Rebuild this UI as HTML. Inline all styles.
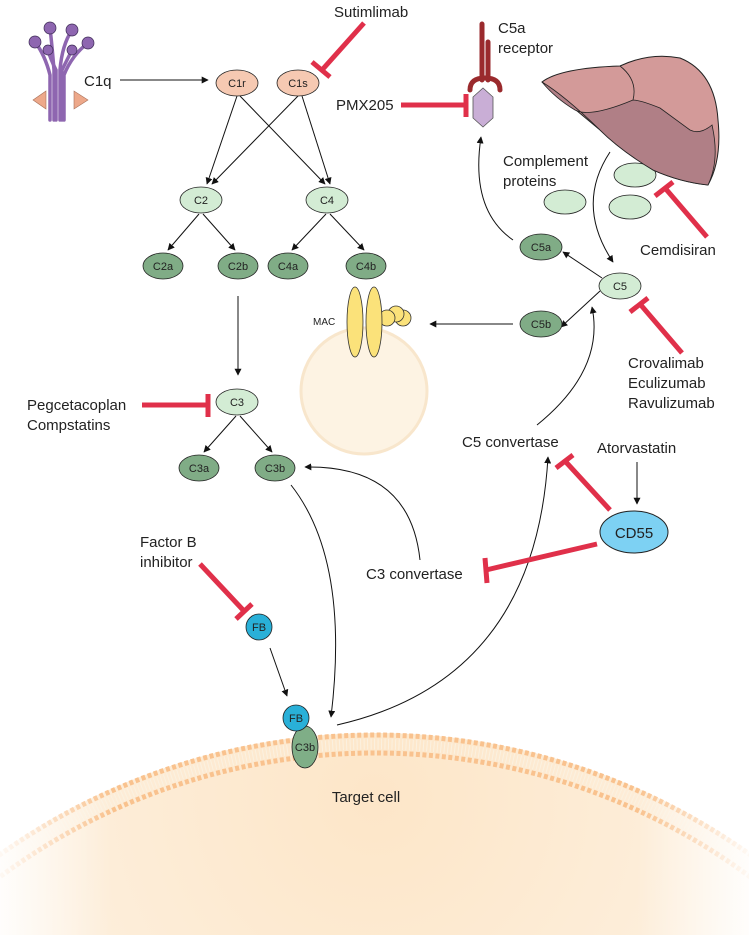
<!DOCTYPE html>
<html><head><meta charset="utf-8"><style>
html,body{margin:0;padding:0;background:#fff;overflow:hidden}
svg{display:block}
text{font-family:"Liberation Sans",Arial,sans-serif;fill:#222}
</style></head><body>
<svg width="749" height="935" viewBox="0 0 749 935" xmlns="http://www.w3.org/2000/svg">
<defs>
<marker id="a" viewBox="0 0 10 10" refX="9" refY="5" markerWidth="7" markerHeight="7" orient="auto-start-reverse"><path d="M0,0 L10,5 L0,10 z" fill="#111"/></marker>
<radialGradient id="cell" cx="0.5" cy="0.05" r="0.5"><stop offset="0" stop-color="#fde6c8"/><stop offset="0.6" stop-color="#fdf0df"/><stop offset="1" stop-color="#fffaf3"/></radialGradient>
<linearGradient id="fadeL" x1="0" x2="1"><stop offset="0" stop-color="#fff" stop-opacity="0.9"/><stop offset="0.15" stop-color="#fff" stop-opacity="0"/><stop offset="0.85" stop-color="#fff" stop-opacity="0"/><stop offset="1" stop-color="#fff" stop-opacity="0.9"/></linearGradient>
</defs>

<!-- target cell -->
<circle cx="375" cy="1383" r="650" fill="url(#cell)"/>
<circle cx="375" cy="1383" r="648" fill="none" stroke="#f9c28e" stroke-width="5" stroke-dasharray="4 2.5"/>
<circle cx="375" cy="1383" r="639" fill="none" stroke="#fbf1e0" stroke-width="11" stroke-dasharray="1 2.5"/>
<circle cx="375" cy="1383" r="630" fill="none" stroke="#f9c28e" stroke-width="5" stroke-dasharray="4 2.5"/>
<rect x="0" y="700" width="749" height="235" fill="url(#fadeL)"/>
<text x="366" y="802" font-size="15" text-anchor="middle">Target cell</text>

<!-- MAC cell -->
<circle cx="364" cy="391" r="63" fill="#fdf3e3" stroke="#f8e6cc" stroke-width="3"/>
<circle cx="403" cy="318" r="8" fill="#fbe27a" stroke="#333" stroke-width="0.8"/>
<circle cx="396" cy="314" r="8" fill="#fbe27a" stroke="#333" stroke-width="0.8"/>
<circle cx="387" cy="318" r="8" fill="#fbe27a" stroke="#333" stroke-width="0.8"/>
<ellipse cx="355" cy="322" rx="8" ry="35" fill="#fbe27a" stroke="#333" stroke-width="0.8"/>
<ellipse cx="374" cy="322" rx="8" ry="35" fill="#fbe27a" stroke="#333" stroke-width="0.8"/>
<text x="313" y="325" font-size="10">MAC</text>

<!-- C1q -->
<g fill="none" stroke="#8e66b0" stroke-width="3.5" stroke-linecap="round">
<path d="M50,120 L50,75 Q45,55 35,42"/>
<path d="M54,120 L54,70 Q52,45 50,28"/>
<path d="M60,120 L60,70 Q62,45 72,30"/>
<path d="M64,120 L64,75 Q72,55 88,43"/>
<path d="M56,120 L56,70 Q50,58 48,50"/>
<path d="M62,120 L62,70 Q68,58 72,50"/>
</g>
<g fill="#8e66b0" stroke="#3d2b55" stroke-width="0.7">
<circle cx="35" cy="42" r="6"/><circle cx="50" cy="28" r="6"/><circle cx="72" cy="30" r="6"/><circle cx="88" cy="43" r="6"/><circle cx="48" cy="50" r="5"/><circle cx="72" cy="50" r="5"/>
</g>
<path d="M33,100 L46,91 L46,109 z M88,100 L74,91 L74,109 z" fill="#eda88a" stroke="#a9715a" stroke-width="0.6"/>
<text x="84" y="86" font-size="15">C1q</text>
<line x1="120" y1="80" x2="208" y2="80" stroke="#111" marker-end="url(#a)"/>

<!-- connectors -->
<g stroke="#111" stroke-width="1" fill="none" marker-end="url(#a)">
<line x1="237" y1="96" x2="207" y2="184"/>
<line x1="240" y1="96" x2="325" y2="184"/>
<line x1="298" y1="96" x2="212" y2="184"/>
<line x1="302" y1="96" x2="330" y2="184"/>
<line x1="199" y1="214" x2="168" y2="250"/>
<line x1="203" y1="214" x2="235" y2="250"/>
<line x1="326" y1="214" x2="292" y2="250"/>
<line x1="330" y1="214" x2="364" y2="250"/>
<line x1="238" y1="296" x2="238" y2="375"/>
<line x1="236" y1="416" x2="204" y2="452"/>
<line x1="240" y1="416" x2="272" y2="452"/>
<path d="M420,560 Q410,465 305,467"/>
<path d="M291,485 Q350,560 331,717"/>
<path d="M270,648 L287,696"/>
<path d="M337,725 Q535,680 548,457"/>
<path d="M537,425 Q605,370 592,307"/>
<line x1="600" y1="291" x2="561" y2="327"/>
<line x1="602" y1="278" x2="563" y2="252"/>
<line x1="513" y1="324" x2="430" y2="324"/>
<path d="M513,240 Q470,210 481,137"/>
<path d="M610,152 Q575,205 613,262"/>
<line x1="637" y1="462" x2="637" y2="504"/>
</g>

<!-- nodes -->
<g font-size="11" text-anchor="middle" stroke-width="0.8">
<ellipse cx="237" cy="83" rx="21" ry="13" fill="#f6c9b2" stroke="#222"/><text x="237" y="87">C1r</text>
<ellipse cx="298" cy="83" rx="21" ry="13" fill="#f6c9b2" stroke="#222"/><text x="298" y="87">C1s</text>
<ellipse cx="201" cy="200" rx="21" ry="13" fill="#d3ecd4" stroke="#222"/><text x="201" y="204">C2</text>
<ellipse cx="327" cy="200" rx="21" ry="13" fill="#d3ecd4" stroke="#222"/><text x="327" y="204">C4</text>
<ellipse cx="163" cy="266" rx="20" ry="13" fill="#80ac86" stroke="#222"/><text x="163" y="270">C2a</text>
<ellipse cx="238" cy="266" rx="20" ry="13" fill="#80ac86" stroke="#222"/><text x="238" y="270">C2b</text>
<ellipse cx="288" cy="266" rx="20" ry="13" fill="#80ac86" stroke="#222"/><text x="288" y="270">C4a</text>
<ellipse cx="366" cy="266" rx="20" ry="13" fill="#80ac86" stroke="#222"/><text x="366" y="270">C4b</text>
<ellipse cx="237" cy="402" rx="21" ry="13" fill="#d3ecd4" stroke="#222"/><text x="237" y="406">C3</text>
<ellipse cx="199" cy="468" rx="20" ry="13" fill="#80ac86" stroke="#222"/><text x="199" y="472">C3a</text>
<ellipse cx="275" cy="468" rx="20" ry="13" fill="#80ac86" stroke="#222"/><text x="275" y="472">C3b</text>
<ellipse cx="541" cy="247" rx="21" ry="13" fill="#80ac86" stroke="#222"/><text x="541" y="251">C5a</text>
<ellipse cx="620" cy="286" rx="21" ry="13" fill="#d3ecd4" stroke="#222"/><text x="620" y="290">C5</text>
<ellipse cx="541" cy="324" rx="21" ry="13" fill="#80ac86" stroke="#222"/><text x="541" y="328">C5b</text>
<circle cx="259" cy="627" r="13" fill="#29b0d8" stroke="#222"/><text x="259" y="631">FB</text>
<ellipse cx="305" cy="747" rx="13" ry="21" fill="#7fae87" stroke="#222"/><text x="305" y="751">C3b</text>
<circle cx="296" cy="718" r="13" fill="#29b0d8" stroke="#222"/><text x="296" y="722">FB</text>
</g>
<ellipse cx="634" cy="532" rx="34" ry="21" fill="#7dd1f3" stroke="#222" stroke-width="1"/>
<text x="634" y="538" font-size="15" text-anchor="middle">CD55</text>

<!-- complement proteins -->
<g fill="#d3ecd4" stroke="#222" stroke-width="0.8">
<ellipse cx="565" cy="202" rx="21" ry="12"/>
<ellipse cx="635" cy="175" rx="21" ry="12"/>
<ellipse cx="630" cy="207" rx="21" ry="12"/>
</g>

<!-- liver -->
<path d="M542,82 Q560,68 620,66 Q650,52 680,58 Q715,72 718,120 Q722,160 708,185 Q680,182 653,170 Q620,150 600,130 Q570,105 542,82 z" fill="#d39a99" stroke="#222" stroke-width="1"/>
<path d="M542,82 Q565,96 600,130 Q620,150 653,170 Q680,182 708,185 Q720,160 712,125 Q700,135 690,130 L660,108 Q640,100 633,100 Q590,118 575,110 Q555,98 542,82 z" fill="#b07f86" stroke="#222" stroke-width="0.8"/>
<path d="M620,66 Q638,80 633,100" fill="none" stroke="#222" stroke-width="0.8"/>

<!-- C5a receptor -->
<path d="M482,24 L482,80 M488,42 L488,80" stroke="#9a2a2d" stroke-width="5" fill="none" stroke-linecap="round"/>
<path d="M470,90 Q470,78 485,78 Q500,78 500,90" stroke="#9a2a2d" stroke-width="5" fill="none" stroke-linecap="round"/>
<path d="M483,88 L493,97 L493,118 L483,127 L473,118 L473,97 z" fill="#c9aed6" stroke="#555" stroke-width="0.8"/>
<text x="498" y="33" font-size="15">C5a</text>
<text x="498" y="53" font-size="15">receptor</text>

<!-- inhibitors (red) -->
<g stroke="#e0304a" stroke-width="5" fill="none">
<line x1="364" y1="23" x2="322" y2="70"/><line x1="312" y1="62" x2="330" y2="77"/>
<line x1="401" y1="105" x2="466" y2="105"/><line x1="466" y1="94" x2="466" y2="117"/>
<line x1="707" y1="237" x2="665" y2="188"/><line x1="655" y1="196" x2="673" y2="182"/>
<line x1="682" y1="353" x2="640" y2="304"/><line x1="630" y1="312" x2="648" y2="298"/>
<line x1="142" y1="405" x2="207" y2="405"/><line x1="208" y1="394" x2="208" y2="417"/>
<line x1="200" y1="564" x2="244" y2="611"/><line x1="236" y1="619" x2="252" y2="604"/>
<line x1="610" y1="510" x2="565" y2="461"/><line x1="556" y1="468" x2="573" y2="455"/>
<line x1="597" y1="544" x2="486" y2="570"/><line x1="485" y1="558" x2="487" y2="583"/>
</g>

<!-- labels -->
<g font-size="15">
<text x="334" y="17">Sutimlimab</text>
<text x="336" y="110">PMX205</text>
<text x="503" y="166">Complement</text>
<text x="503" y="186">proteins</text>
<text x="640" y="255">Cemdisiran</text>
<text x="628" y="368">Crovalimab</text>
<text x="628" y="388">Eculizumab</text>
<text x="628" y="408">Ravulizumab</text>
<text x="27" y="410">Pegcetacoplan</text>
<text x="27" y="430">Compstatins</text>
<text x="462" y="447">C5 convertase</text>
<text x="597" y="453">Atorvastatin</text>
<text x="366" y="579">C3 convertase</text>
<text x="140" y="547">Factor B</text>
<text x="140" y="567">inhibitor</text>
</g>
</svg>
</body></html>
